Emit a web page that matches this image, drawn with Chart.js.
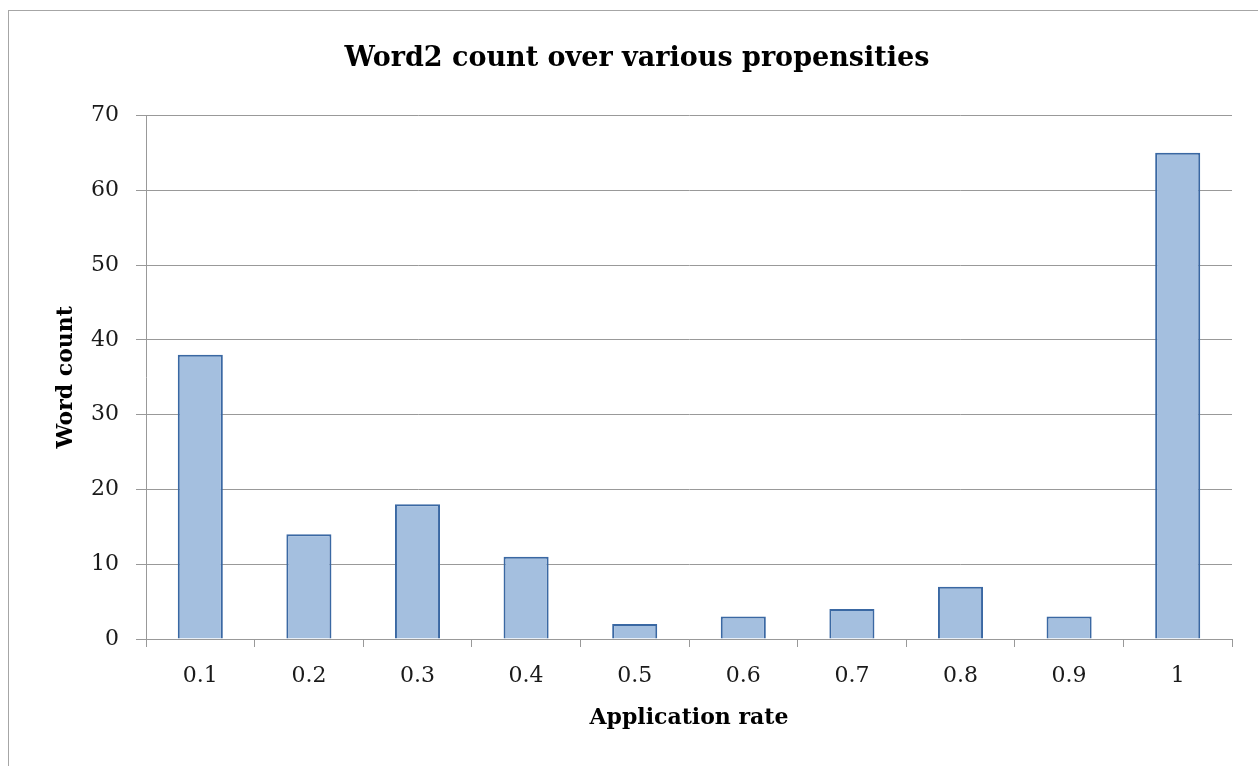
<!DOCTYPE html>
<html>
<head>
<meta charset="utf-8">
<script src="https://cdn.jsdelivr.net/npm/chart.js@4"></script>
<style>
  html, body { margin: 0; padding: 0; background: #fff; overflow: hidden; }
  #frame { position: absolute; left: 8px; top: 10px; width: 1300px; height: 800px; border: 1px solid #a6a6a6; }
  #wrap { position: absolute; left: 0; top: 0; width: 1258px; height: 766px; }
</style>
</head>
<body>
<div id="frame"></div>
<div id="wrap"><canvas id="wordChart"></canvas></div>
<script>
const rates = ['0.1', '0.2', '0.3', '0.4', '0.5', '0.6', '0.7', '0.8', '0.9', '1'];
const wordCounts = [38, 14, 18, 11, 2, 3, 4, 7, 3, 65];
const yTicks = [0, 10, 20, 30, 40, 50, 60, 70];

const serif = "'DejaVu Serif', 'Liberation Serif', serif";
const gridGray = '#999999';

const ctx = document.getElementById('wordChart').getContext('2d');
const wordChart = new Chart(ctx, {
  type: 'bar',
  data: {
    labels: rates,
    datasets: [{
      label: 'Word count',
      data: wordCounts,
      backgroundColor: '#a4bfdf',
      borderColor: '#3a68a3',
      borderWidth: 2,
      barPercentage: 0.415,
      categoryPercentage: 1
    }]
  },
  options: {
    responsive: true,
    maintainAspectRatio: false,
    animation: false,
    layout: { padding: { left: 42, right: 26, top: 0, bottom: 15 } },
    plugins: {
      legend: { display: false },
      tooltip: { enabled: false },
      title: {
        display: true,
        text: 'Word2 count over various propensities',
        color: '#000',
        font: { family: serif, size: 27, weight: 'bold' },
        padding: { top: 43, bottom: 40 }
      }
    },
    scales: {
      x: {
        afterFit: s => { s.height = 112; },
        grid: { drawOnChartArea: false, drawTicks: true, tickLength: 8, color: gridGray, offset: true },
        border: { display: true, color: gridGray },
        ticks: { color: '#1a1a1a', font: { family: serif, size: 22 }, padding: 16 },
        title: {
          display: true, text: 'Application rate', color: '#000',
          font: { family: serif, size: 22, weight: 'bold' },
          padding: { top: 0, bottom: 20 }
        }
      },
      y: {
        min: 0, max: 70,
        afterFit: s => { s.width = 104; },
        afterBuildTicks: s => { s.ticks = yTicks.map(v => ({ value: v })); },
        grid: { color: gridGray, tickLength: 10 },
        border: { display: true, color: gridGray },
        ticks: { color: '#1a1a1a', font: { family: serif, size: 22 }, padding: 17 },
        title: {
          display: true, text: 'Word count', color: '#000',
          font: { family: serif, size: 22, weight: 'bold' },
          padding: { top: 11, bottom: 0 }
        }
      }
    }
  }
});
</script>
</body>
</html>
